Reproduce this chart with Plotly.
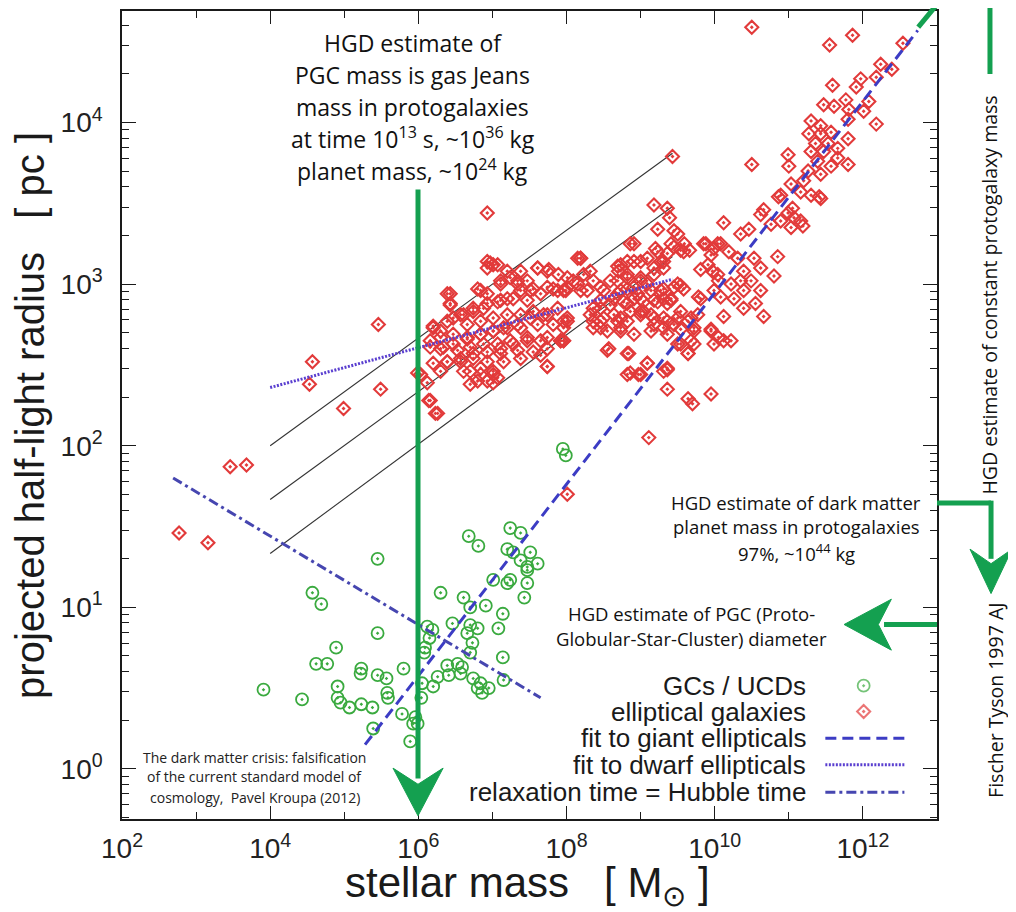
import numpy as np
import plotly.graph_objects as go

# ---------------- data (log10 stellar mass [Msun], log10 half-light radius [pc]) -------------
gcs_ucds = [
    (5.45, 1.30), (4.57, 1.09), (4.69, 1.02), (5.45, 0.84), (4.89, 0.75), (4.62, 0.65), (4.77, 0.65),
    (5.23, 0.62), (5.22, 0.59), (5.45, 0.58), (5.57, 0.56), (5.58, 0.47), (5.59, 0.44), (5.80, 0.62),
    (4.91, 0.51), (4.91, 0.44), (4.95, 0.41), (5.07, 0.38), (5.23, 0.40), (5.38, 0.38), (5.78, 0.34),
    (5.93, 0.28), (5.39, 0.25), (5.89, 0.17), (4.43, 0.43), (3.91, 0.49),
    (6.12, 0.88), (6.19, 0.86), (6.15, 0.81), (6.09, 0.75), (6.08, 0.72), (6.05, 0.53), (6.04, 0.44),
    (5.99, 0.28), (5.96, 0.32),
    (6.68, 1.44), (6.81, 1.38), (7.24, 1.49), (7.38, 1.46), (7.20, 1.36), (7.28, 1.34), (7.51, 1.34),
    (7.38, 1.29), (7.47, 1.25), (7.61, 1.27), (7.01, 1.17), (7.24, 1.17), (7.47, 1.15), (7.43, 1.06),
    (6.30, 1.09), (6.61, 1.06), (6.70, 1.00), (6.91, 1.01), (7.14, 0.96), (6.46, 0.90), (6.70, 0.89),
    (6.80, 0.87), (6.66, 0.84), (7.08, 0.87), (6.73, 0.78), (6.70, 0.72), (7.14, 0.69), (6.39, 0.64),
    (6.53, 0.65), (6.59, 0.63), (6.26, 0.57), (6.41, 0.58), (6.57, 0.59), (6.20, 0.51), (6.74, 0.56),
    (6.84, 0.53), (6.80, 0.50), (6.95, 0.50), (6.86, 0.47), (7.15, 0.55), (7.95, 1.98), (7.99, 1.94),
    (7.47, 1.23), (7.20, 1.15),
]

elliptical_galaxies = [
    # low-mass outliers
    (2.77, 1.46), (3.16, 1.40), (3.46, 1.87), (3.68, 1.88), (4.57, 2.52), (4.53, 2.38), (5.46, 2.75),
    (5.49, 2.35), (4.99, 2.23), (5.99, 2.45), (6.16, 2.28), (6.23, 2.20), (6.93, 3.44), (8.01, 1.70),
    (9.11, 2.05),
    # dwarf cluster
    (6.39, 2.94), (6.43, 2.88), (6.84, 2.96), (7.11, 3.02), (7.24, 3.04), (7.34, 3.00), (7.47, 3.02),
    (7.51, 2.96), (7.65, 2.94), (7.74, 2.98), (7.88, 2.96), (6.93, 3.14), (7.01, 3.12), (6.93, 3.10),
    (7.61, 3.10), (7.76, 3.09), (7.89, 3.06), (8.19, 3.16), (6.20, 2.73), (6.39, 2.77), (6.57, 2.81),
    (6.74, 2.85), (6.93, 2.88), (7.11, 2.90), (7.28, 2.91), (7.47, 2.90), (6.66, 2.75), (6.84, 2.77),
    (7.01, 2.79), (7.20, 2.81), (7.38, 2.81), (7.55, 2.83), (7.74, 2.81), (6.30, 2.67), (6.47, 2.69),
    (6.66, 2.67), (6.84, 2.69), (7.01, 2.71), (7.20, 2.73), (7.38, 2.73), (7.61, 2.75), (7.82, 2.75),
    (8.01, 2.77), (6.16, 2.61), (6.34, 2.61), (6.53, 2.59), (6.70, 2.61), (6.88, 2.63), (7.07, 2.63),
    (7.24, 2.65), (7.47, 2.67), (7.74, 2.67), (7.92, 2.65), (6.20, 2.51), (6.39, 2.52), (6.57, 2.52),
    (6.74, 2.54), (6.93, 2.52), (7.11, 2.57), (7.34, 2.59), (6.70, 2.46), (6.84, 2.44), (7.01, 2.44),
    (6.80, 2.40), (7.01, 2.39), (6.03, 2.44), (6.14, 2.28), (6.26, 2.20), (7.74, 2.49), (7.65, 2.56),
    (7.96, 2.65),
    (6.97, 3.13), (6.43, 2.94), (6.43, 2.87), (6.20, 2.74), (6.30, 2.71), (6.16, 2.65), (6.47, 2.79),
    (6.61, 2.81), (6.74, 2.83), (6.88, 2.85), (7.07, 2.89), (7.20, 2.91), (7.38, 2.96), (7.34, 3.02),
    (7.61, 3.10), (7.74, 3.08), (7.55, 2.97), (7.82, 2.97), (7.96, 2.96), (8.09, 3.02), (8.15, 3.16),
    (6.30, 2.60), (6.47, 2.63), (6.66, 2.66), (6.84, 2.69), (7.01, 2.71), (7.15, 2.73), (7.34, 2.75),
    (7.51, 2.79), (7.69, 2.81), (7.88, 2.85), (8.01, 2.79), (7.96, 2.73), (6.39, 2.52), (6.57, 2.54),
    (6.74, 2.57), (6.93, 2.58), (7.11, 2.60), (7.28, 2.63), (7.47, 2.65), (7.65, 2.65), (6.30, 2.46),
    (6.61, 2.46), (6.84, 2.48), (7.01, 2.46), (7.15, 2.52), (7.38, 2.54), (7.55, 2.58), (7.74, 2.60),
    (6.70, 2.38), (6.93, 2.40), (7.07, 2.42), (6.12, 2.39), (7.74, 2.49), (7.92, 2.65), (6.93, 2.94),
    (7.11, 3.00), (6.80, 2.97), (7.20, 3.08), (7.38, 3.08), (7.07, 3.12),
    # intermediate
    (9.18, 3.49), (9.36, 3.47), (9.39, 3.41), (9.23, 3.34), (9.45, 3.33), (8.91, 3.25), (9.20, 3.22),
    (9.36, 3.19), (9.45, 3.23), (8.32, 3.08), (8.69, 3.11), (8.82, 3.14), (9.00, 3.14), (8.82, 3.04),
    (9.00, 3.04), (9.18, 3.10), (9.31, 3.14), (8.01, 2.98), (8.15, 3.00), (8.28, 2.96), (8.46, 2.98),
    (8.59, 3.02), (8.73, 2.96), (8.91, 2.98), (9.09, 3.00), (9.27, 2.96), (9.45, 2.98), (8.46, 2.90),
    (8.64, 2.91), (8.82, 2.88), (9.00, 2.91), (9.18, 2.90), (9.36, 2.88), (8.32, 2.81), (8.46, 2.77),
    (8.64, 2.81), (8.82, 2.77), (9.00, 2.81), (9.18, 2.79), (9.36, 2.77), (8.36, 2.73), (8.55, 2.71),
    (8.73, 2.73), (8.91, 2.69), (9.14, 2.71), (9.31, 2.73), (8.55, 2.59), (8.82, 2.57), (9.09, 2.51),
    (8.82, 2.44), (9.00, 2.44), (9.31, 2.46), (9.36, 2.35), (9.64, 2.29), (9.70, 2.26), (9.95, 2.32),
    (8.70, 3.08), (8.46, 2.85), (8.69, 2.77), (9.04, 2.83), (9.18, 2.75), (9.36, 2.69), (9.54, 2.83),
    (9.54, 3.21), (9.09, 3.16), (9.36, 2.47), (9.43, 3.79),
    (8.86, 3.25), (8.19, 3.16), (8.73, 3.12), (8.91, 3.14), (9.23, 3.20), (9.41, 3.25), (9.50, 3.31),
    (9.58, 3.20), (9.85, 3.25), (9.95, 3.18), (8.01, 3.04), (8.23, 3.06), (8.36, 3.02), (8.69, 3.02),
    (8.82, 3.06), (9.00, 3.02), (9.18, 3.06), (9.31, 3.10), (9.27, 3.14), (7.99, 2.96), (8.19, 2.96),
    (8.50, 2.96), (8.69, 2.94), (8.82, 2.97), (8.96, 2.94), (9.14, 2.96), (9.31, 2.97), (9.50, 3.00),
    (9.58, 2.97), (8.36, 2.85), (8.59, 2.87), (8.77, 2.89), (8.91, 2.91), (9.04, 2.89), (9.23, 2.89),
    (9.41, 2.91), (7.96, 2.77), (8.36, 2.77), (8.50, 2.79), (8.73, 2.79), (8.86, 2.83), (9.00, 2.83),
    (9.14, 2.81), (9.31, 2.79), (9.50, 2.79), (9.64, 2.77), (8.46, 2.73), (8.73, 2.71), (7.96, 2.65),
    (9.81, 2.91), (9.77, 2.81), (9.72, 2.73), (9.95, 2.71), (9.99, 2.63), (9.68, 2.65), (9.50, 2.63),
    (9.64, 2.57), (8.57, 2.60), (8.84, 2.57), (9.09, 2.51), (8.86, 2.45), (8.97, 2.44), (9.36, 2.48),
    (10.04, 3.25), (9.91, 3.12), (10.04, 3.06), (9.99, 2.96),
    # giants
    (9.59, 3.25), (9.66, 3.21), (10.12, 3.38), (9.88, 3.25), (9.99, 3.22), (10.08, 3.25), (10.19, 3.20),
    (10.35, 3.31), (10.46, 3.34), (10.62, 3.43), (10.86, 3.54), (11.03, 3.62), (11.16, 3.57),
    (11.41, 3.54), (10.76, 3.37), (10.89, 3.39), (10.99, 3.44), (11.07, 3.41), (11.16, 3.39),
    (11.03, 3.35), (11.19, 3.36), (10.31, 3.16), (10.53, 3.16), (10.62, 3.10), (10.85, 3.17),
    (10.80, 3.05), (9.81, 3.09), (9.97, 3.08), (10.05, 3.02), (10.22, 3.00), (10.39, 3.08), (10.35, 3.02),
    (10.49, 3.02), (10.39, 2.96), (10.62, 2.96), (10.55, 2.88), (10.39, 2.85), (10.66, 2.80),
    (10.12, 2.80), (10.26, 2.91), (10.08, 2.92), (9.78, 2.92), (9.54, 2.99), (9.31, 2.91), (9.41, 2.90),
    (9.68, 2.79), (9.45, 2.75), (9.54, 2.72), (9.72, 2.71), (9.95, 2.72), (10.05, 2.67), (10.12, 2.65),
    (10.22, 2.65), (9.64, 2.57), (9.72, 2.63), (9.54, 2.63),
    (10.50, 4.59), (11.55, 4.48), (11.86, 4.54), (12.54, 4.49), (12.24, 4.36), (12.39, 4.33),
    (12.18, 4.28), (11.97, 4.27), (11.91, 4.22), (11.59, 4.23), (11.47, 4.11), (11.61, 4.10),
    (11.77, 4.14), (11.81, 4.08), (12.08, 4.13), (12.01, 4.07), (12.18, 3.99), (11.80, 4.02),
    (11.30, 4.01), (11.43, 3.98), (11.27, 3.93), (11.43, 3.93), (11.57, 3.94), (11.36, 3.87),
    (11.53, 3.87), (11.30, 3.82), (11.47, 3.82), (11.66, 3.84), (11.80, 3.90), (11.66, 3.78),
    (11.39, 3.76), (11.57, 3.73), (11.80, 3.74), (10.99, 3.80), (11.00, 3.73), (10.50, 3.74),
    (11.26, 3.70), (11.43, 3.68), (11.20, 3.64), (10.89, 3.55), (11.30, 3.55), (11.43, 3.53),
    (11.05, 3.47), (10.66, 3.46),
]

# constant-density (R ~ M^1/3) reference lines
iso_logM = [4.0, 9.43]
iso_logR = [[2.00, 3.81], [1.667, 3.48], [1.333, 3.17]]
# fits
giant_logM, giant_logR = [5.28, 12.74], [0.15, 4.57]
dwarf_logM, dwarf_logR = [4.0, 9.43], [2.36, 3.03]
relax_logM, relax_logR = [2.69, 7.65], [1.80, 0.44]

x_tick_exps = [2, 4, 6, 8, 10, 12]
x_minor_exps = [3, 5, 7, 9, 11, 13]
y_tick_exps = [0, 1, 2, 3, 4]

legend_labels = ["GCs / UCDs", "elliptical galaxies", "fit to giant ellipticals",
                 "fit to dwarf ellipticals", "relaxation time = Hubble time"]

# ---------------- styles ----------------
RED = "#e23a3a"
GC_GREEN = "#3aaa3f"
ARROW_GREEN = "#14a050"
BLUE_DASH = "#3c3cc4"
BLUE_DOT = "#5a3fd0"
BLUE_DD = "#4646b0"
SANS = "Liberation Sans, Arial, Helvetica, sans-serif"
MYRIAD = "Open Sans, Noto Sans, sans-serif"

def p10(v):
    return 10 ** np.asarray(v, dtype=float)

fig = go.Figure()

for rr in iso_logR:
    fig.add_trace(go.Scatter(x=p10(iso_logM), y=p10(rr), mode="lines",
                             line=dict(color="#333333", width=1.1), hoverinfo="skip"))

ex, ey = zip(*elliptical_galaxies)
fig.add_trace(go.Scatter(x=p10(ex), y=p10(ey), mode="markers",
                         marker=dict(symbol="diamond-open-dot", size=10, color=RED,
                                     line=dict(width=2.1, color=RED))))

gx, gy = zip(*gcs_ucds)
fig.add_trace(go.Scatter(x=p10(gx), y=p10(gy), mode="markers",
                         marker=dict(symbol="circle-open-dot", size=12, color=GC_GREEN,
                                     line=dict(width=1.8, color=GC_GREEN))))

fig.add_trace(go.Scatter(x=p10(dwarf_logM), y=p10(dwarf_logR), mode="lines",
                         line=dict(color=BLUE_DOT, width=3, dash="2px,1.5px")))
fig.add_trace(go.Scatter(x=p10(giant_logM), y=p10(giant_logR), mode="lines",
                         line=dict(color=BLUE_DASH, width=3, dash="11px,6px")))
fig.add_trace(go.Scatter(x=p10(relax_logM), y=p10(relax_logR), mode="lines",
                         line=dict(color=BLUE_DD, width=3, dash="10px,4px,3px,4px")))

# legend key markers on an overlay axis (0..1 over plot area)
fig.add_trace(go.Scatter(x=[0.910, 0.910], y=[0.165, 0.133], xaxis="x2", yaxis="y2", mode="markers",
                         marker=dict(symbol=["circle-open-dot", "diamond-open-dot"], size=[12, 10],
                                     color=[GC_GREEN, RED],
                                     line=dict(width=[1.8, 2.1], color=[GC_GREEN, RED])),
                         hoverinfo="skip"))

# the page body adds an 8px offset, so the figure is 8px smaller than the window
fig.update_layout(
    width=1008, height=904,
    margin=dict(l=114, r=79, t=1, b=93),
    paper_bgcolor="white", plot_bgcolor="white",
    showlegend=False,
    font=dict(family=SANS, color="#1a1a1a"),
    xaxis=dict(type="log", range=[2, 13], showgrid=False, zeroline=False,
               showline=True, linecolor="#1a1a1a", linewidth=1.5, mirror="ticks",
               ticks="inside", ticklen=13, tickwidth=1.3, tickcolor="#1a1a1a",
               tickvals=[10.0 ** e for e in x_tick_exps],
               ticktext=[f"10<sup>{e}</sup>" for e in x_tick_exps],
               tickfont=dict(size=28, family=SANS, color="#222"),
               ticklabelstandoff=4,
               minor=dict(ticks="inside", ticklen=7, tickwidth=1.3, tickcolor="#1a1a1a",
                          tickvals=[10.0 ** e for e in x_minor_exps], showgrid=False)),
    yaxis=dict(type="log", range=[-0.31, 4.69], showgrid=False, zeroline=False,
               showline=True, linecolor="#1a1a1a", linewidth=1.5, mirror="ticks",
               ticks="inside", ticklen=14, tickwidth=1.3, tickcolor="#1a1a1a",
               tickvals=[10.0 ** e for e in y_tick_exps],
               ticktext=[f"10<sup>{e}</sup>" for e in y_tick_exps],
               tickfont=dict(size=28, family=SANS, color="#222"),
               ticklabelstandoff=12,
               minor=dict(ticks="inside", ticklen=7, tickwidth=1.3, tickcolor="#1a1a1a",
                          tickvals=[m * 10.0 ** e for e in range(-1, 5) for m in range(2, 10)],
                          showgrid=False)),
    xaxis2=dict(overlaying="x", range=[0, 1], visible=False, domain=[0, 1]),
    yaxis2=dict(overlaying="y", range=[0, 1], visible=False, domain=[0, 1]),
)

NB = "\u00a0"
ann = []

def add_text(x, y, text, size, family=MYRIAD, xanchor="center", angle=0, color="#111"):
    ann.append(dict(x=x, y=y, xref="paper", yref="paper", text=text, showarrow=False,
                    xanchor=xanchor, yanchor="middle", textangle=angle,
                    font=dict(size=size, family=family, color=color)))

# axis titles
add_text(-0.113, 0.5, f"projected half-light radius{NB*3}[ pc ]", 40, SANS, angle=-90, color="#1a1a1a")
add_text(0.498, -0.082, f"stellar mass{NB*3}[ M<sub>⊙</sub> ]", 42, SANS, color="#1a1a1a")

# top text block
top_lines = ["HGD estimate of", "PGC mass is gas Jeans", "mass in protogalaxies",
             "at time 10<sup>13</sup> s, ~10<sup>36</sup> kg", "planet mass, ~10<sup>24</sup> kg"]
top_y = [0.960, 0.921, 0.881, 0.843, 0.803]
for t, yy in zip(top_lines, top_y):
    add_text(0.357, yy, t, 23)

# citation
cite_lines = ["The dark matter crisis: falsification", "of the current standard model of",
              f"cosmology,{NB} Pavel Kroupa (2012)"]
for t, yy in zip(cite_lines, [0.0765, 0.052, 0.027]):
    add_text(0.163, yy, t, 14, color="#222")

# dark-matter planet text
dm_lines = ["HGD estimate of dark matter", "planet mass in protogalaxies", "97%, ~10<sup>44</sup> kg"]
for t, yy in zip(dm_lines, [0.392, 0.362, 0.330]):
    add_text(0.827, yy, t, 18.5)

# PGC diameter text
for t, yy in zip(["HGD estimate of PGC (Proto-", "Globular-Star-Cluster) diameter"], [0.254, 0.223]):
    add_text(0.699, yy, t, 18.5)

# legend texts
for t, yy in zip(legend_labels, [0.165, 0.133, 0.100, 0.067, 0.033]):
    add_text(0.842, yy, t, 26, SANS, xanchor="right", color="#1a1a1a")

# right rotated texts
add_text(1.065, 0.649, "HGD estimate of constant protogalaxy mass", 19.5, angle=-90)
add_text(1.072, 0.147, "Fischer Tyson 1997 AJ", 19.5, angle=-90)
fig.update_layout(annotations=ann)

# ---------------- shapes (paper coordinates) ----------------
shapes = []
def pline(x0, y0, x1, y1, color=ARROW_GREEN, width=5, dash="solid"):
    shapes.append(dict(type="line", xref="paper", yref="paper", x0=x0, y0=y0, x1=x1, y1=y1,
                       line=dict(color=color, width=width, dash=dash), layer="above"))

def ppath(pts):
    d = "M " + " L ".join(f"{a},{b}" for a, b in pts) + " Z"
    shapes.append(dict(type="path", xref="paper", yref="paper", path=d,
                       fillcolor=ARROW_GREEN, line=dict(color=ARROW_GREEN, width=1), layer="above"))

# vertical arrow at 10^6
pline(0.3632, 0.779, 0.3632, 0.05)
ppath([(0.3632, 0.004), (0.3325, 0.063), (0.3632, 0.043), (0.394, 0.063)])
# left-pointing arrow (PGC diameter)
pline(1.0, 0.2407, 0.935, 0.2407)
ppath([(0.886, 0.2407), (0.944, 0.272), (0.928, 0.2407), (0.944, 0.209)])
# L-shaped arrow (dark matter planets)
pline(1.0, 0.391, 1.0663, 0.391)
pline(1.0663, 0.394, 1.0663, 0.322)
ppath([(1.0663, 0.279), (1.0405, 0.334), (1.0663, 0.316), (1.0921, 0.334)])
# top-right lines
pline(1.065, 1.012, 1.065, 0.922)
pline(0.977, 0.980, 1.004, 1.013)

# legend key lines
pline(0.863, 0.100, 0.960, 0.100, color=BLUE_DASH, width=3, dash="11px,6px")
pline(0.863, 0.067, 0.960, 0.067, color=BLUE_DOT, width=3, dash="2px,1.5px")
pline(0.863, 0.033, 0.960, 0.033, color=BLUE_DD, width=3, dash="10px,4px,3px,4px")
fig.update_layout(shapes=shapes)

fig.write_html("out.html")
